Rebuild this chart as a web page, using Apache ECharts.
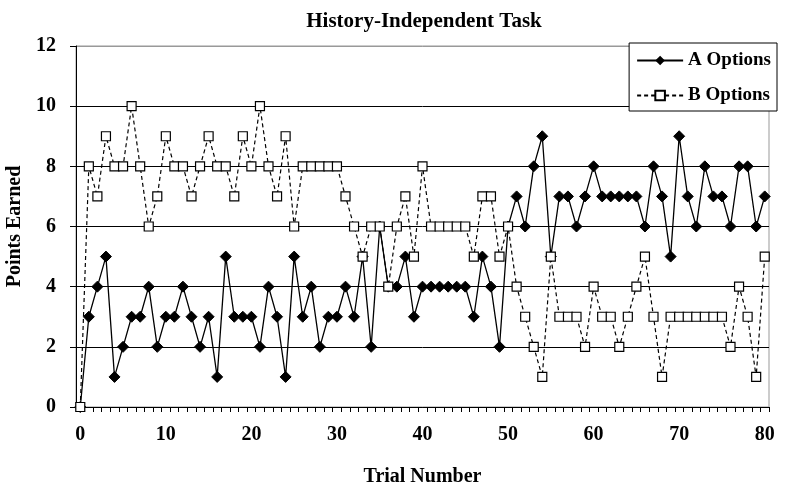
<!DOCTYPE html>
<html><head><meta charset="utf-8">
<script src="https://cdn.jsdelivr.net/npm/echarts@6/dist/echarts.min.js"></script>
<style>html,body{margin:0;padding:0;background:#fff}#c{width:785px;height:488px}</style>
</head><body><div id="c"></div>
<script>
var trials = [];
for (var i = 0; i <= 80; i++) trials.push(String(i));
var aOptions = [0,3,4,5,1,2,3,3,4,2,3,3,4,3,2,3,1,5,3,3,3,2,4,3,1,5,3,4,2,3,3,4,3,5,2,6,4,4,5,3,4,4,4,4,4,4,3,5,4,2,6,7,6,8,9,5,7,7,6,7,8,7,7,7,7,7,6,8,7,5,9,7,6,8,7,7,6,8,8,6,7];
var bOptions = [0,8,7,9,8,8,10,8,6,7,9,8,8,7,8,9,8,8,7,9,8,10,8,7,9,6,8,8,8,8,8,7,6,5,6,6,4,6,7,5,8,6,6,6,6,6,5,7,7,5,6,4,3,2,1,5,3,3,3,2,4,3,3,2,3,4,5,3,1,3,3,3,3,3,3,3,2,4,3,1,5];
var seriesNames = ['A Options','B Options'];
var yTicks = [0,2,4,6,8,10,12];

var font = 'Liberation Serif, Times New Roman, serif';
var chart = echarts.init(document.getElementById('c'));
chart.setOption({
  animation: false,
  backgroundColor: '#fff',
  title: {
    text: 'History-Independent Task', left: 419, textAlign: 'center', top: 6,
    textStyle: {fontFamily: font, fontWeight: 'bold', fontSize: 21, color: '#000'}
  },
  legend: {
    orient: 'vertical', right: 8, top: 43,
    backgroundColor: '#fff', borderColor: '#000', borderWidth: 1,
    padding: [8, 6, 6, 7], itemGap: 16, itemWidth: 46, itemHeight: 12,
    textStyle: {fontFamily: font, fontWeight: 'bold', fontSize: 19, color: '#000'},
    data: seriesNames
  },
  grid: {left: 76, right: 16, top: 46, bottom: 81, show: true, borderColor: '#999', borderWidth: 1,
    containLabel: false, outerBoundsMode: 'none'},
  xAxis: {
    type: 'category', data: trials, boundaryGap: true,
    name: 'Trial Number', nameLocation: 'middle', nameGap: 60,
    nameTextStyle: {fontFamily: font, fontWeight: 'bold', fontSize: 20, color: '#000'},
    axisLine: {lineStyle: {color: '#000', width: 1}},
    axisTick: {show: true, interval: 0, length: 5, lineStyle: {color: '#000'}},
    axisLabel: {interval: 9, margin: 18, fontFamily: font, fontWeight: 'bold', fontSize: 20, color: '#000'},
    splitLine: {show: false}
  },
  yAxis: {
    type: 'value', min: 0, max: 12, interval: 2,
    name: 'Points Earned', nameLocation: 'middle', nameGap: 42,
    nameTextStyle: {fontFamily: font, fontWeight: 'bold', fontSize: 20, color: '#000'},
    axisLine: {show: true, lineStyle: {color: '#000', width: 1}},
    axisTick: {show: true, length: 6, lineStyle: {color: '#000'}},
    axisLabel: {margin: 20, fontFamily: font, fontWeight: 'bold', fontSize: 20, color: '#000',
      formatter: function (v) { return yTicks.indexOf(v) >= 0 ? String(v) : ''; }},
    splitLine: {show: true, lineStyle: {color: ['#000','#000','#000','#000','#000','#000','#999'], width: 1}}
  },
  series: [
    {
      name: seriesNames[0], type: 'line', data: aOptions,
      symbol: 'diamond', symbolSize: 11, showAllSymbol: true,
      itemStyle: {color: '#000', borderColor: '#000'},
      lineStyle: {color: '#000', width: 1.3, type: 'solid'}, z: 2
    },
    {
      name: seriesNames[1], type: 'line', data: bOptions,
      symbol: 'rect', symbolSize: 9, showAllSymbol: true,
      itemStyle: {color: '#fff', borderColor: '#000', borderWidth: 1.2},
      lineStyle: {color: '#000', width: 1.2, type: [4, 3]}, z: 3
    }
  ]
});
</script></body></html>
